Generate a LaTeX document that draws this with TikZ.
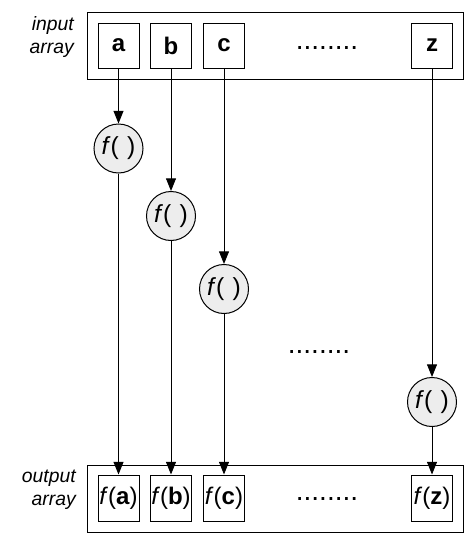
\documentclass[tikz,border=0pt]{standalone}
\usepackage{fontspec}
\setmainfont{Liberation Sans}
\usetikzlibrary{arrows.meta}
\begin{document}
\begin{tikzpicture}[x=0.75pt,y=-0.75pt,
  every node/.style={inner sep=0pt},
  outerbox/.style={draw,line width=0.75pt,minimum width=376*0.75pt,minimum height=67*0.75pt},
  cellbox/.style={draw,line width=0.75pt,minimum width=41*0.75pt,minimum height=45*0.75pt,font=\fontsize{18}{21}\selectfont},
  fcirc/.style={draw,circle,line width=0.75pt,fill=black!7,minimum size=49*0.75pt,font=\fontsize{18.5}{21}\selectfont},
  lbl/.style={align=right,anchor=east,font=\fontsize{14.5}{17}\selectfont\itshape},
  dots/.style={font=\fontsize{21}{24}\selectfont},
  arr/.style={line width=0.7pt,-{Triangle[length=9.5pt,width=7.5pt]}}]
\useasboundingbox (0,0) rectangle (475,543);
% input
\node[outerbox] (inbox) at (275,45.5) {};
\node[lbl] (inlbl) at (74,37) {input\\array};
\node[cellbox] (a) at (118.5,45.5) {\textbf{a}};
\node[cellbox] (b) at (171,45.5) {\textbf{b}};
\node[cellbox] (c) at (224,45.5) {\textbf{c}};
\node[cellbox] (z) at (432,45.5) {\textbf{z}};
\node[dots] (d1) at (327,48) {........};
% functions
\node[fcirc] (fa) at (118.5,148.5) {\textit{f}(\,\,)};
\node[fcirc] (fb) at (171,216) {\textit{f}(\,\,)};
\node[fcirc] (fc) at (224,289) {\textit{f}(\,\,)};
\node[fcirc] (fz) at (432,402) {\textit{f}(\,\,)};
\node[dots] (d2) at (319,352) {........};
% output
\node[outerbox] (outbox) at (275,498.5) {};
\node[lbl] (outlbl) at (76,490) {output\\array};
\node[cellbox,minimum height=46*0.75pt] (oa) at (118.5,498) {\textit{f}(\textbf{a})};
\node[cellbox,minimum height=46*0.75pt] (ob) at (171,498) {\textit{f}(\textbf{b})};
\node[cellbox,minimum height=46*0.75pt] (oc) at (224,498) {\textit{f}(\textbf{c})};
\node[cellbox,minimum height=46*0.75pt] (oz) at (432,498) {\textit{f}(\textbf{z})};
\node[dots] (d3) at (327,499) {........};
% arrows
\foreach \s/\t in {a/fa,b/fb,c/fc,z/fz,fa/oa,fb/ob,fc/oc,fz/oz}
  \draw[arr] (\s.south) -- (\t.north);
\end{tikzpicture}
\end{document}
